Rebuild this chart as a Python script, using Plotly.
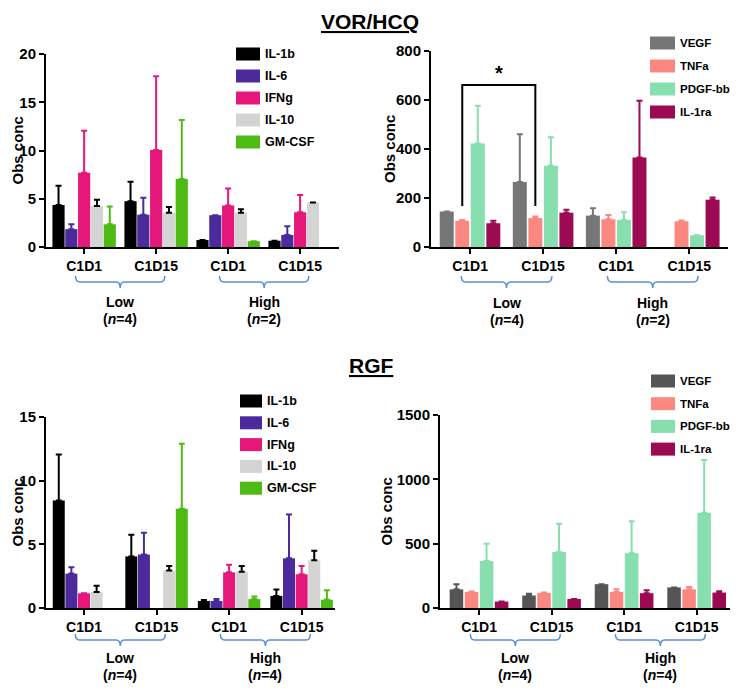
import numpy as np
import plotly.graph_objects as go

nan = float("nan")

# ---------------- data ----------------
timepoints = ["C1D1", "C1D15", "C1D1", "C1D15"]
cohorts = ["Low", "High"]
n_vor = [4, 2]
n_rgf = [4, 4]

small_names = ["IL-1b", "IL-6", "IFNg", "IL-10", "GM-CSF"]
small_colors = ["#000000", "#4B2A9C", "#E6177A", "#D4D4D4", "#4DBB14"]
small_err_colors = ["#000000", "#4B2A9C", "#E6177A", "#000000", "#4DBB14"]

large_names = ["VEGF", "TNFa", "PDGF-bb", "IL-1ra"]
large_colors_vor = ["#767676", "#FB8880", "#87DEAE", "#9B0A52"]
large_colors_rgf = ["#555555", "#FB8880", "#87DEAE", "#9B0A52"]

# VOR/HCQ - small analytes (mean, SD)
vor_il1b = [4.35, 4.75, 0.72, 0.65]
vor_il1b_sd = [2.0, 2.0, nan, nan]
vor_il6 = [1.85, 3.35, 3.3, 1.25]
vor_il6_sd = [0.5, 1.75, nan, 0.9]
vor_ifng = [7.7, 10.05, 4.3, 3.6]
vor_ifng_sd = [4.35, 7.65, 1.75, 1.8]
vor_il10 = [4.25, 3.55, 3.55, 4.6]
vor_il10_sd = [0.65, 0.6, 0.35, nan]
vor_gmcsf = [2.35, 7.05, 0.6, nan]
vor_gmcsf_sd = [1.85, 6.1, nan, nan]

# VOR/HCQ - large analytes
vor_vegf = [145, 265, 128, nan]
vor_vegf_sd = [nan, 195, 30, nan]
vor_tnfa = [107, 118, 113, 105]
vor_tnfa_sd = [3, 7, 18, 3]
vor_pdgf = [422, 332, 110, 48]
vor_pdgf_sd = [155, 116, 32, nan]
vor_il1ra = [97, 140, 365, 193]
vor_il1ra_sd = [10, 12, 232, 9]

# RGF - small analytes
rgf_il1b = [8.45, 4.05, 0.55, 0.95]
rgf_il1b_sd = [3.6, 1.7, 0.07, 0.5]
rgf_il6 = [2.7, 4.2, 0.55, 3.9]
rgf_il6_sd = [0.5, 1.7, 0.15, 3.45]
rgf_ifng = [1.15, nan, 2.8, 2.65]
rgf_ifng_sd = [nan, nan, 0.6, 0.65]
rgf_il10 = [1.25, 2.95, 2.85, 3.75]
rgf_il10_sd = [0.5, 0.35, 0.45, 0.75]
rgf_gmcsf = [nan, 7.8, 0.7, 0.65]
rgf_gmcsf_sd = [nan, 5.1, 0.2, 0.75]

# RGF - large analytes
rgf_vegf = [145, 97, 185, 160]
rgf_vegf_sd = [40, 13, nan, nan]
rgf_tnfa = [125, 117, 125, 145]
rgf_tnfa_sd = [3, 3, 20, 18]
rgf_pdgf = [365, 435, 425, 740]
rgf_pdgf_sd = [135, 220, 250, 410]
rgf_il1ra = [50, 70, 115, 120]
rgf_il1ra_sd = [nan, nan, 22, 10]

sig_star_y = 710
sig_bracket = (167, 661)

# ---------------- layout helpers ----------------
PAGE_W, PAGE_H = 740, 691
BODY = 8  # default page body margin
W, H = PAGE_W - 2 * BODY, PAGE_H - 2 * BODY
FONT = "Liberation Sans, Arial, Helvetica, sans-serif"


def px(x):
    return (x - BODY) / W


def py(y):
    return 1 - (y - BODY) / H


panels = [
    dict(  # top-left
        names=small_names, colors=small_colors, errc=small_err_colors,
        ys=[vor_il1b, vor_il6, vor_ifng, vor_il10, vor_gmcsf],
        sds=[vor_il1b_sd, vor_il6_sd, vor_ifng_sd, vor_il10_sd, vor_gmcsf_sd],
        xdom=(46, 339), ydom=(247, 54), xr=(-0.53, 3.54), yr=(0, 20), dtick=5,
        gw=0.89, gg=0.05, ns=n_vor,
        leg=(236, 260, 54, 22), legfs=12.5,
        brace=(276, 282, 288), lab=(302, 319), title_x=17,
    ),
    dict(  # top-right
        names=large_names, colors=large_colors_vor, errc=large_colors_vor,
        ys=[vor_vegf, vor_tnfa, vor_pdgf, vor_il1ra],
        sds=[vor_vegf_sd, vor_tnfa_sd, vor_pdgf_sd, vor_il1ra_sd],
        xdom=(431, 728), ydom=(247, 51), xr=(-0.534, 3.53), yr=(0, 800), dtick=200,
        gw=0.85, gg=0.1, ns=n_vor,
        leg=(650, 675, 43, 23), legfs=11.5,
        brace=(276, 282, 288), lab=(303, 320), title_x=389,
    ),
    dict(  # bottom-left
        names=small_names, colors=small_colors, errc=small_err_colors,
        ys=[rgf_il1b, rgf_il6, rgf_ifng, rgf_il10, rgf_gmcsf],
        sds=[rgf_il1b_sd, rgf_il6_sd, rgf_ifng_sd, rgf_il10_sd, rgf_gmcsf_sd],
        xdom=(46, 335), ydom=(608, 417), xr=(-0.524, 3.46), yr=(0, 15), dtick=5,
        gw=0.87, gg=0.05, ns=n_rgf,
        leg=(240, 262, 401, 21.8), legfs=12.5,
        brace=(634, 640, 646), lab=(658, 675), title_x=17,
    ),
    dict(  # bottom-right
        names=large_names, colors=large_colors_rgf, errc=large_colors_rgf,
        ys=[rgf_vegf, rgf_tnfa, rgf_pdgf, rgf_il1ra],
        sds=[rgf_vegf_sd, rgf_tnfa_sd, rgf_pdgf_sd, rgf_il1ra_sd],
        xdom=(440, 730), ydom=(608, 415), xr=(-0.538, 3.46), yr=(0, 1500), dtick=500,
        gw=0.83, gg=0.1, ns=n_rgf,
        leg=(651, 675, 381, 22.7), legfs=11.5,
        brace=(634, 640, 646), lab=(658, 675), title_x=386,
    ),
]

fig = go.Figure()
shapes = []
annotations = []
xpos = list(range(len(timepoints)))
layout_axes = {}
BRACE = "#5B8ED8"

for p, P in enumerate(panels):
    sfx = "" if p == 0 else str(p + 1)
    xa, ya = "x" + sfx, "y" + sfx
    n = len(P["names"])
    slot = P["gw"] / n
    bw = slot * (1 - P["gg"])
    offsets = [-P["gw"] / 2 + i * slot + (slot - bw) / 2 for i in range(n)]
    P["offsets"], P["bw"] = offsets, bw
    for i in range(n):
        fig.add_trace(go.Bar(
            x=xpos, y=np.array(P["ys"][i], dtype=float),
            width=bw, offset=offsets[i],
            marker=dict(color=P["colors"][i], line=dict(width=0)),
            error_y=dict(type="data", symmetric=False,
                         array=np.array(P["sds"][i], dtype=float),
                         arrayminus=np.zeros(len(xpos)),
                         color=P["errc"][i], thickness=2, width=3),
            xaxis=xa, yaxis=ya, showlegend=False, name=P["names"][i],
        ))
    layout_axes["xaxis" + sfx] = dict(
        domain=[px(P["xdom"][0]), px(P["xdom"][1])], anchor=ya,
        range=list(P["xr"]), tickvals=xpos, ticktext=timepoints,
        showline=True, linewidth=2, linecolor="black", ticks="outside",
        ticklen=5, tickwidth=2, tickcolor="black", showgrid=False, zeroline=False,
        tickfont=dict(family=FONT, size=14, color="black", weight="bold"),
        fixedrange=True, automargin=False,
    )
    layout_axes["yaxis" + sfx] = dict(
        domain=[py(P["ydom"][0]), py(P["ydom"][1])], anchor=xa,
        range=list(P["yr"]), dtick=P["dtick"], tick0=0,
        showline=True, linewidth=2, linecolor="black", ticks="outside",
        ticklen=5, tickwidth=2, tickcolor="black", showgrid=False, zeroline=False,
        tickfont=dict(family=FONT, size=15, color="black", weight="bold"),
        fixedrange=True, automargin=False,
    )
    # y title
    annotations.append(dict(
        text="<b>Obs conc</b>", textangle=-90, xref="paper", yref="paper",
        x=px(P["title_x"]), y=py((P["ydom"][0] + P["ydom"][1]) / 2),
        showarrow=False, font=dict(family=FONT, size=15, color="black"),
        xanchor="center", yanchor="middle",
    ))
    # legend
    lx0, lx1, ly0, lstep = P["leg"]
    for i in range(n):
        yc = ly0 + i * lstep
        shapes.append(dict(type="rect", xref="paper", yref="paper",
                           x0=px(lx0), x1=px(lx1), y0=py(yc - 6.5), y1=py(yc + 6.5),
                           fillcolor=P["colors"][i], line=dict(width=0)))
        annotations.append(dict(
            text="<b>%s</b>" % P["names"][i], xref="paper", yref="paper",
            x=px(lx1 + 3), y=py(yc), xanchor="left", yanchor="middle",
            showarrow=False, font=dict(family=FONT, size=P["legfs"], color="black"),
        ))
    # cohort braces
    yt, yh, yb = P["brace"]
    l1, l2 = P["lab"]
    for c, cname in enumerate(cohorts):
        x0 = 2 * c - 0.12
        x1 = 2 * c + 1 + 0.12
        xm = 2 * c + 0.5
        d = 0.06
        path = ("M {a},{yt} Q {a},{yh} {b},{yh} L {c},{yh} Q {m},{yh} {m},{yb} "
                "Q {m},{yh} {e},{yh} L {f},{yh} Q {g},{yh} {g},{yt}").format(
            a=x0, b=x0 + d, c=xm - d, m=xm, e=xm + d, f=x1 - d, g=x1,
            yt=py(yt), yh=py(yh), yb=py(yb))
        shapes.append(dict(type="path", xref=xa, yref="paper", path=path,
                           line=dict(color=BRACE, width=1.5)))
        annotations.append(dict(
            text="<b>%s</b>" % cname, xref=xa, yref="paper", x=xm, y=py(l1),
            xanchor="center", yanchor="middle", showarrow=False,
            font=dict(family=FONT, size=14, color="black"),
        ))
        annotations.append(dict(
            text="<b>(<i>n</i>=%d)</b>" % P["ns"][c], xref=xa, yref="paper",
            x=xm, y=py(l2), xanchor="center", yanchor="middle", showarrow=False,
            font=dict(family=FONT, size=14, color="black"),
        ))

# significance bracket on top-right panel (TNFa C1D1 vs TNFa C1D15)
P2 = panels[1]
tn = P2["names"].index("TNFa")
cx = P2["offsets"][tn] + P2["bw"] / 2
xl, xr_ = 0 + cx, 1 + cx
yb_, yt_ = sig_bracket
shapes.append(dict(type="path", xref="x2", yref="y2",
                   path="M {0},{2} L {0},{3} L {1},{3} L {1},{2}".format(xl, xr_, yb_, yt_),
                   line=dict(color="black", width=2)))
annotations.append(dict(text="<b>*</b>", xref="x2", yref="y2", x=(xl + xr_) / 2,
                        y=sig_star_y, showarrow=False, xanchor="center", yanchor="middle",
                        font=dict(family=FONT, size=20, color="black")))

# section titles
annotations.append(dict(text="<b><u>VOR/HCQ</u></b>", xref="paper", yref="paper",
                        x=px(370), y=py(21), xanchor="center", yanchor="middle",
                        showarrow=False, font=dict(family=FONT, size=21, color="black")))
annotations.append(dict(text="<b><u>RGF</u></b>", xref="paper", yref="paper",
                        x=px(371), y=py(365), xanchor="center", yanchor="middle",
                        showarrow=False, font=dict(family=FONT, size=21, color="black")))

fig.update_layout(
    template="none",
    width=W, height=H, margin=dict(l=0, r=0, t=0, b=0, pad=0, autoexpand=False),
    paper_bgcolor="white", plot_bgcolor="white",
    barmode="overlay", showlegend=False,
    shapes=shapes, annotations=annotations,
    font=dict(family=FONT, color="black"),
    **layout_axes,
)

fig.write_html("out.html")
